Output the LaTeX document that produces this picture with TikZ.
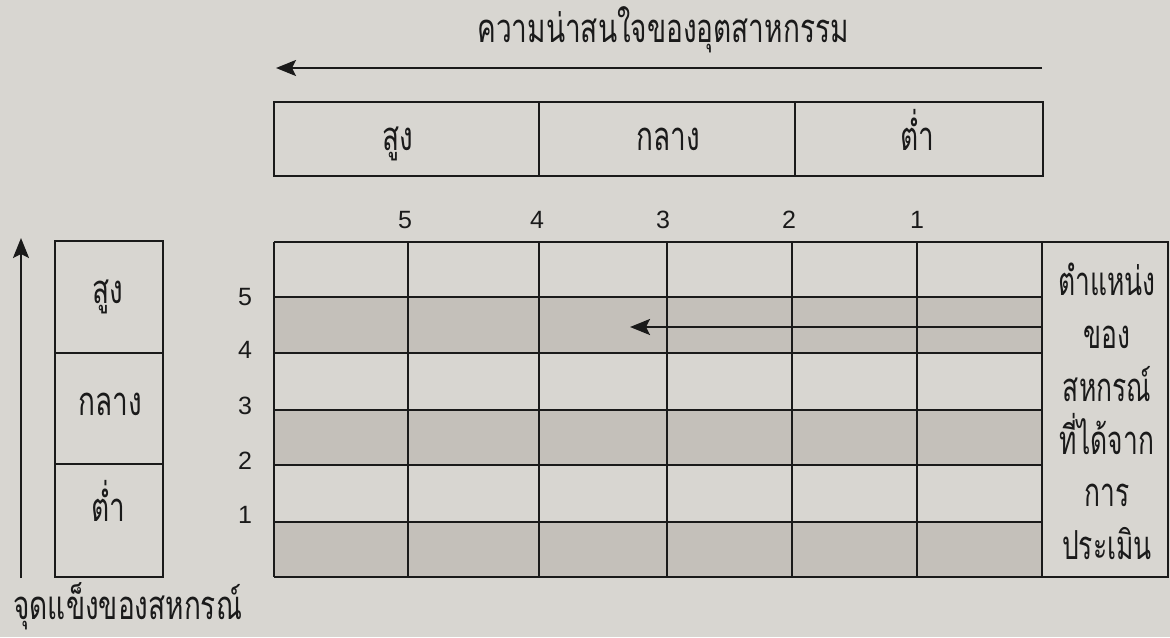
\documentclass[tikz,border=0pt]{standalone}
\usepackage{fontspec}
\usetikzlibrary{arrows.meta}
\newfontfamily\thaifont[Script=Thai,FakeStretch=0.70]{Loma}
\newfontfamily\thaiside[Script=Thai,FakeStretch=0.66]{Loma}
\newfontfamily\numfont{Liberation Sans}
\definecolor{paper}{HTML}{D8D6D1}
\definecolor{rowshade}{HTML}{C4C0BA}
\definecolor{ink}{HTML}{1A1A1A}
\begin{document}
\begin{tikzpicture}[x=0.5pt,y=-0.5pt,
  thai/.style={font=\thaifont\fontsize{20}{22}\selectfont, inner sep=0pt, text=ink, anchor=base},
  side/.style={font=\thaiside\fontsize{20}{22}\selectfont, inner sep=0pt, text=ink, anchor=base},
  num/.style={font=\numfont\fontsize{12.5}{14}\selectfont, inner sep=0pt, text=ink},
  cell/.style={draw=ink, line width=1.3pt, inner sep=0pt},
  gridline/.style={draw=ink, line width=1.3pt},
  arr/.style={-{Stealth[length=10pt,width=8pt,inset=2pt]}, line width=1.2pt, draw=ink}]
\fill[paper] (0,0) rectangle (1170,637);
\useasboundingbox (0,0) rectangle (1170,637);

% title and top arrow
\node[thai] (title) at (663,42) {ความน่าสนใจของอุตสาหกรรม};
\coordinate (tastart) at (1042,68);
\coordinate (taend) at (276,68);
\draw[arr] (tastart) -- (taend);

% top category boxes
\node[cell, minimum width=132.5pt, minimum height=37pt] (thigh) at (406.5,139) {};
\node[cell, minimum width=128pt, minimum height=37pt] (tmid) at (667,139) {};
\node[cell, minimum width=124pt, minimum height=37pt] (tlow) at (919,139) {};
\node[thai] (thighl) at (398,150) {สูง};
\node[thai] (tmidl) at (668,150) {กลาง};
\node[thai] (tlowl) at (917,150) {ต่ำ};

% column numbers
\node[num] (c5) at (405,220) {5};
\node[num] (c4) at (537,220) {4};
\node[num] (c3) at (663,220) {3};
\node[num] (c2) at (789,220) {2};
\node[num] (c1) at (917,220) {1};

% grid shading
\fill[rowshade] (274,297) rectangle (1042,353);
\fill[rowshade] (274,410) rectangle (1042,465);
\fill[rowshade] (274,522) rectangle (1042,577);
% grid lines
\foreach \yy in {242,297,353,410,465,522,577}
  \draw[gridline] (274,\yy) -- (1042,\yy);
\foreach \xx in {274,408,539,667,792,917}
  \draw[gridline] (\xx,242) -- (\xx,577);
\node[cell, minimum width=63pt, minimum height=167.5pt] (posbox) at (1105,409.5) {};

% inner arrow in row 2
\coordinate (iastart) at (1042,327);
\coordinate (iaend) at (630,327);
\draw[arr] (iastart) -- (iaend);

% right label
\node[side] (pl1) at (1107,295) {ตำแหน่ง};
\node[side] (pl2) at (1107,348) {ของ};
\node[side] (pl3) at (1107,401) {สหกรณ์};
\node[side] (pl4) at (1107,454) {ที่ได้จาก};
\node[side] (pl5) at (1107,506) {การ};
\node[side] (pl6) at (1107,559) {ประเมิน};

% row numbers
\node[num] (r5) at (245,297) {5};
\node[num] (r4) at (245,350) {4};
\node[num] (r3) at (245,406) {3};
\node[num] (r2) at (245,461) {2};
\node[num] (r1) at (245,515) {1};

% left category boxes
\node[cell, minimum width=54pt, minimum height=56pt] (lhigh) at (109,297) {};
\node[cell, minimum width=54pt, minimum height=55.5pt] (lmid) at (109,408.5) {};
\node[cell, minimum width=54pt, minimum height=56.5pt] (llow) at (109,520.5) {};
\node[thai] (lhighl) at (108,303) {สูง};
\node[thai] (lmidl) at (110,415) {กลาง};
\node[thai] (llowl) at (108,521) {ต่ำ};

% left arrow and caption
\coordinate (lastart) at (21,578);
\coordinate (laend) at (21,238);
\draw[arr] (lastart) -- (laend);
\node[thai, anchor=base west] (caption) at (13,619) {จุดแข็งของสหกรณ์};
\end{tikzpicture}
\end{document}
